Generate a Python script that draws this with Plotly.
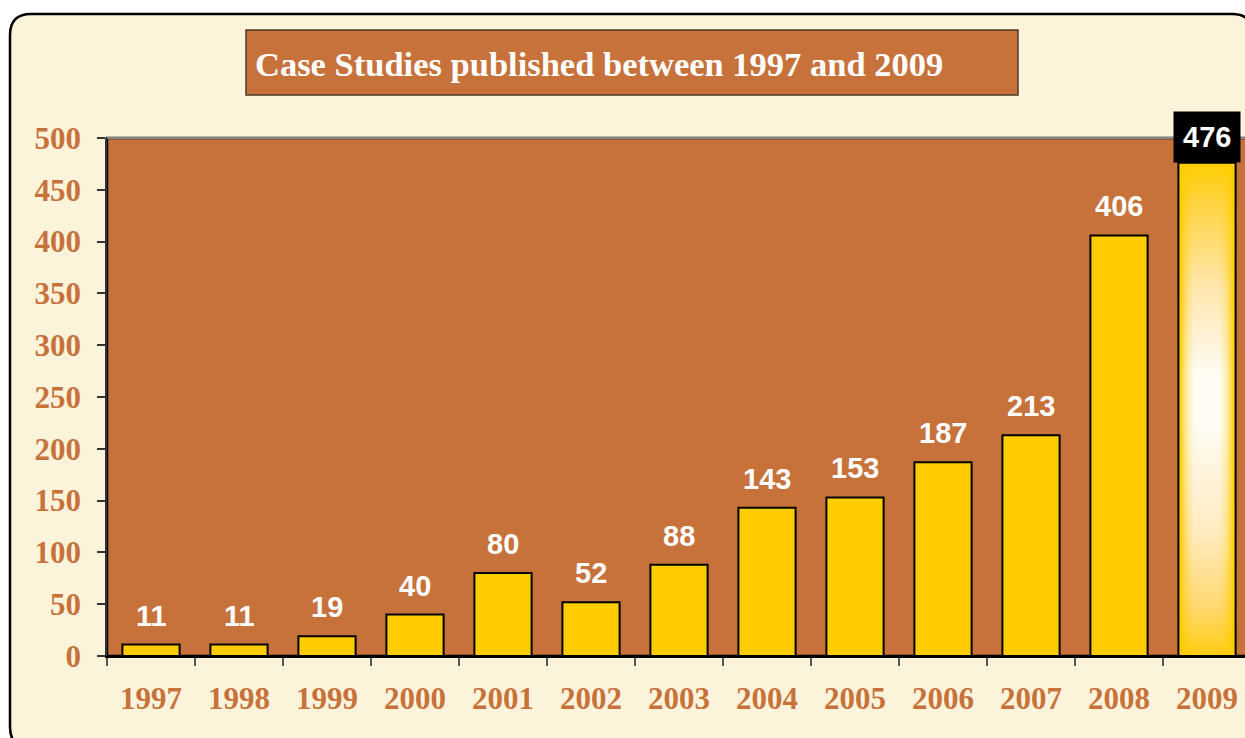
import base64
import plotly.graph_objects as go

# ---------------- data ----------------
years = ["1997", "1998", "1999", "2000", "2001", "2002", "2003",
         "2004", "2005", "2006", "2007", "2008", "2009"]
counts = [11, 11, 19, 40, 80, 52, 88, 143, 153, 187, 213, 406, 476]
y_ticks = [0, 50, 100, 150, 200, 250, 300, 350, 400, 450, 500]
title_text = "Case Studies published between 1997 and 2009"

# ---------------- layout geometry ----------------
W, H = 1245, 738
ML, MT, MR, MB = 107, 138, 0, 82
PW = W - ML - MR
PH = H - MT - MB
CAT_PX = 88.0                      # pixels per category
x_lo = -0.5
x_hi = x_lo + PW / CAT_PX
BAR_W = 0.65

def px(x):
    return (x - ML) / PW

def py(y):
    return (H - MB - y) / PH

BROWN = "#C8723B"
YELLOW = "#FFCC00"
CREAM = "#FCF3DB"
SERIF = "Liberation Serif, Times New Roman, serif"
SANS = "Liberation Sans, Arial, sans-serif"

fig = go.Figure()

# bars (last one gets a gradient image behind a transparent fill)
colors = [YELLOW] * (len(counts) - 1) + ["rgba(0,0,0,0)"]
fig.add_trace(go.Bar(
    x=years, y=counts, width=BAR_W,
    marker=dict(color=colors, line=dict(color="#000000", width=2)),
    hoverinfo="skip", showlegend=False,
))

# gradient for the highlighted bar (SVG gradients as layout image)
svg = (
    '<svg xmlns="http://www.w3.org/2000/svg" width="100" height="800" '
    'viewBox="0 0 100 800" preserveAspectRatio="none">'
    '<defs>'
    '<linearGradient id="v" x1="0" y1="0" x2="0" y2="1">'
    '<stop offset="0" stop-color="#FFCC00"/>'
    '<stop offset="0.08" stop-color="#FFD440"/>'
    '<stop offset="0.25" stop-color="#FFE6AC"/>'
    '<stop offset="0.43" stop-color="#FFFCF4"/>'
    '<stop offset="0.53" stop-color="#FFFCF4"/>'
    '<stop offset="0.75" stop-color="#FFEBC0"/>'
    '<stop offset="0.90" stop-color="#FFD870"/>'
    '<stop offset="1" stop-color="#FFCC10"/>'
    '</linearGradient>'
    '<linearGradient id="h" x1="0" y1="0" x2="1" y2="0">'
    '<stop offset="0" stop-color="#FFCC00" stop-opacity="1"/>'
    '<stop offset="0.06" stop-color="#FFCC00" stop-opacity="0.8"/>'
    '<stop offset="0.15" stop-color="#FFCC00" stop-opacity="0.3"/>'
    '<stop offset="0.28" stop-color="#FFCC00" stop-opacity="0"/>'
    '<stop offset="0.72" stop-color="#FFCC00" stop-opacity="0"/>'
    '<stop offset="0.85" stop-color="#FFCC00" stop-opacity="0.3"/>'
    '<stop offset="0.94" stop-color="#FFCC00" stop-opacity="0.8"/>'
    '<stop offset="1" stop-color="#FFCC00" stop-opacity="1"/>'
    '</linearGradient>'
    '</defs>'
    '<rect x="0" y="0" width="100" height="800" fill="url(#v)"/>'
    '<rect x="0" y="0" width="100" height="800" fill="url(#h)"/>'
    '</svg>'
)
src = "data:image/svg+xml;base64," + base64.b64encode(svg.encode()).decode()
last_i = len(counts) - 1
last_v = counts[-1]
fig.add_layout_image(dict(
    source=src, xref="x", yref="y",
    x=last_i - BAR_W / 2, y=last_v,
    sizex=BAR_W, sizey=last_v,
    xanchor="left", yanchor="top", sizing="stretch", layer="below",
))

# value labels (x given as category index)
annotations = []
for i, v in enumerate(counts):
    if i == last_i:
        annotations.append(dict(
            x=i, y=v, xref="x", yref="y", text=str(v), showarrow=False,
            yanchor="bottom", xanchor="center", yshift=0,
            bgcolor="#000000", borderpad=9,
            font=dict(family=SANS, size=29, color="#FFFFFF", weight="bold"),
        ))
    else:
        annotations.append(dict(
            x=i, y=v, xref="x", yref="y", text=str(v), showarrow=False,
            yanchor="bottom", xanchor="center", yshift=11,
            font=dict(family=SANS, size=29, color="#FFFFFF", weight="bold"),
        ))

# title text
annotations.append(dict(
    x=px(253), y=py(64), xref="paper", yref="paper", text=title_text,
    showarrow=False, xanchor="left", yanchor="middle",
    font=dict(family=SERIF, size=34.5, color="#FFFFFF", weight="bold"),
))

# frame (rounded rectangle) with a hole for the plot area, paper coordinates
fx0, fy0, fx1, fy1, rad = 10, 14, 1253, 748, 21
def P(x, y):
    return f"{px(x):.5f},{py(y):.5f}"
frame_path = (
    f"M {P(fx0 + rad, fy0)} L {P(fx1 - rad, fy0)} Q {P(fx1, fy0)} {P(fx1, fy0 + rad)} "
    f"L {P(fx1, fy1 - rad)} Q {P(fx1, fy1)} {P(fx1 - rad, fy1)} "
    f"L {P(fx0 + rad, fy1)} Q {P(fx0, fy1)} {P(fx0, fy1 - rad)} "
    f"L {P(fx0, fy0 + rad)} Q {P(fx0, fy0)} {P(fx0 + rad, fy0)} Z "
    # hole (opposite winding) = plot area
    f"M 0,1 L 0,0 L 1.2,0 L 1.2,1 Z"
)

shapes = [
    dict(type="path", path=frame_path, xref="paper", yref="paper",
         fillcolor=CREAM, line=dict(color="#000000", width=2.5), layer="below"),
    # title box
    dict(type="rect", xref="paper", yref="paper",
         x0=px(246), x1=px(1018), y0=py(95), y1=py(30),
         fillcolor=BROWN, line=dict(color="#4A3A28", width=1.5), layer="above"),
    # grey top border of plot area
    dict(type="line", xref="paper", yref="paper", x0=0, x1=1, y0=1, y1=1,
         line=dict(color="#858585", width=2), layer="above"),
]

fig.update_layout(
    width=W, height=H,
    margin=dict(l=ML, r=MR, t=MT, b=MB, pad=0),
    paper_bgcolor="#FFFFFF",
    plot_bgcolor=BROWN,
    barmode="overlay",
    showlegend=False,
    annotations=annotations,
    shapes=shapes,
    xaxis=dict(
        type="category", range=[x_lo, x_hi], tickson="boundaries",
        ticks="outside", ticklen=8, tickwidth=1.5, tickcolor="#555555",
        showline=True, linecolor="#000000", linewidth=2,
        showgrid=False, zeroline=False, fixedrange=True,
        ticklabelstandoff=14,
        tickfont=dict(family=SERIF, size=31, color=BROWN, weight="bold"),
    ),
    yaxis=dict(
        range=[0, 500], tickvals=y_ticks, ticktext=[str(t) for t in y_ticks],
        ticks="outside", ticklen=8, tickwidth=1.5, tickcolor="#333333",
        showline=True, linecolor="#333333", linewidth=1.5,
        showgrid=False, zeroline=False, fixedrange=True,
        ticklabelstandoff=10,
        tickfont=dict(family=SERIF, size=31, color=BROWN, weight="bold"),
    ),
)

fig.write_html(
    "out.html",
    config={"displayModeBar": False},
    post_script="document.body.style.margin='0';document.body.style.overflow='hidden';",
)
